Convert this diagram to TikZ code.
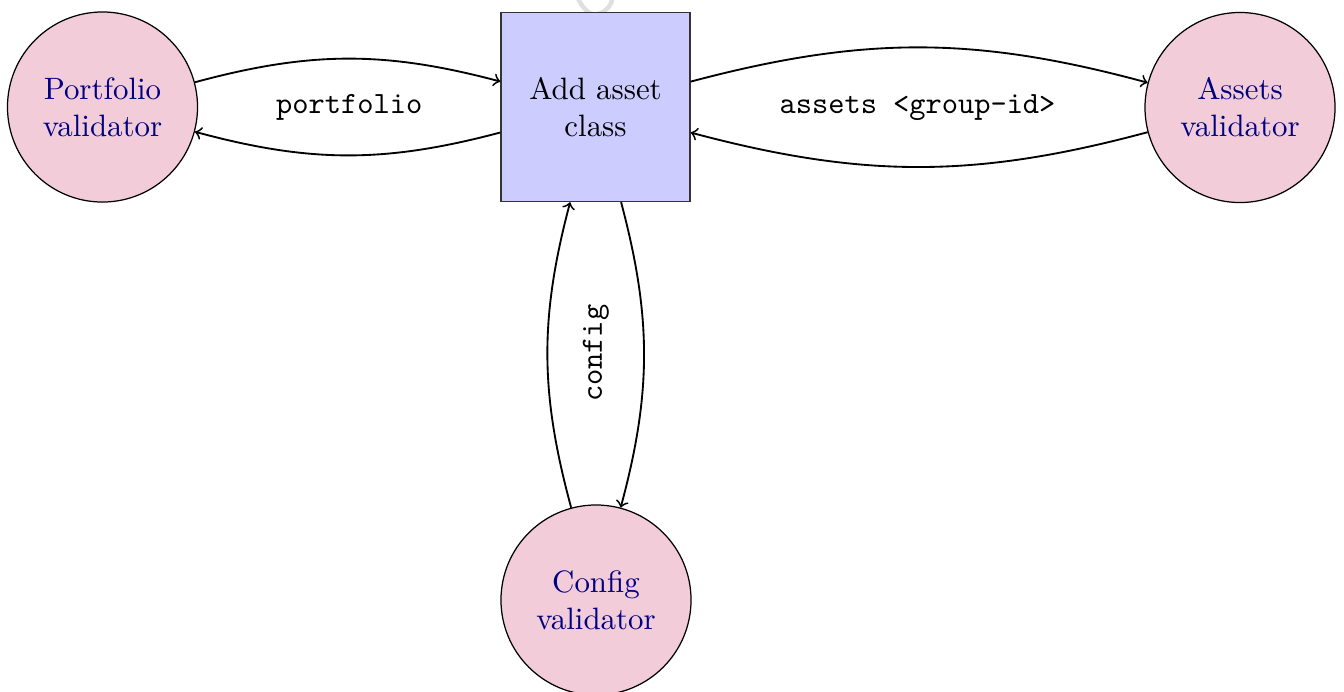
\documentclass[tikz,border=0pt]{standalone}
\usetikzlibrary{arrows}
\tikzset{
  validator/.style={circle, draw=black, thin, fill=purple!20, text=blue!50!black,
    minimum size=61.5pt, inner sep=1pt, align=center},
  actionbox/.style={rectangle, draw=black!80, thin, fill=blue!20, text=black,
    minimum size=61.2pt, inner sep=1pt, align=center},
  flow/.style={->, semithick, bend left=15},
  lbl/.style={font=\ttfamily}
}
\begin{document}
\begin{tikzpicture}[x=0.3236pt, y=-0.3236pt]
\useasboundingbox (0,0) rectangle (1344,691);
% faint watermark fragment
\draw[gray!25, line width=1.4pt, line cap=round] (577,-3) .. controls (584,10) and (590,16) .. (598,14) .. controls (606,12) and (611,6) .. (613,-3);
\node[validator] (pv) at (102.5,107) {Portfolio\\validator};
\node[actionbox] (add) at (595.5,107) {Add asset\\class};
\node[validator] (av) at (1240,107.5) {Assets\\validator};
\node[validator] (cv) at (596,600) {Config\\validator};
\draw[flow] (pv) to (add);
\draw[flow] (add) to (pv);
\draw[flow] (add) to (av);
\draw[flow] (av) to (add);
\draw[flow] (add) to (cv);
\draw[flow] (cv) to (add);
\path (pv) -- node[lbl] (lp) {portfolio} (add);
\path (add) -- node[lbl] (la) {assets <group-id>} (av);
\path (add) -- node[lbl, rotate=90] (lc) {config} (cv);
\end{tikzpicture}
\end{document}
